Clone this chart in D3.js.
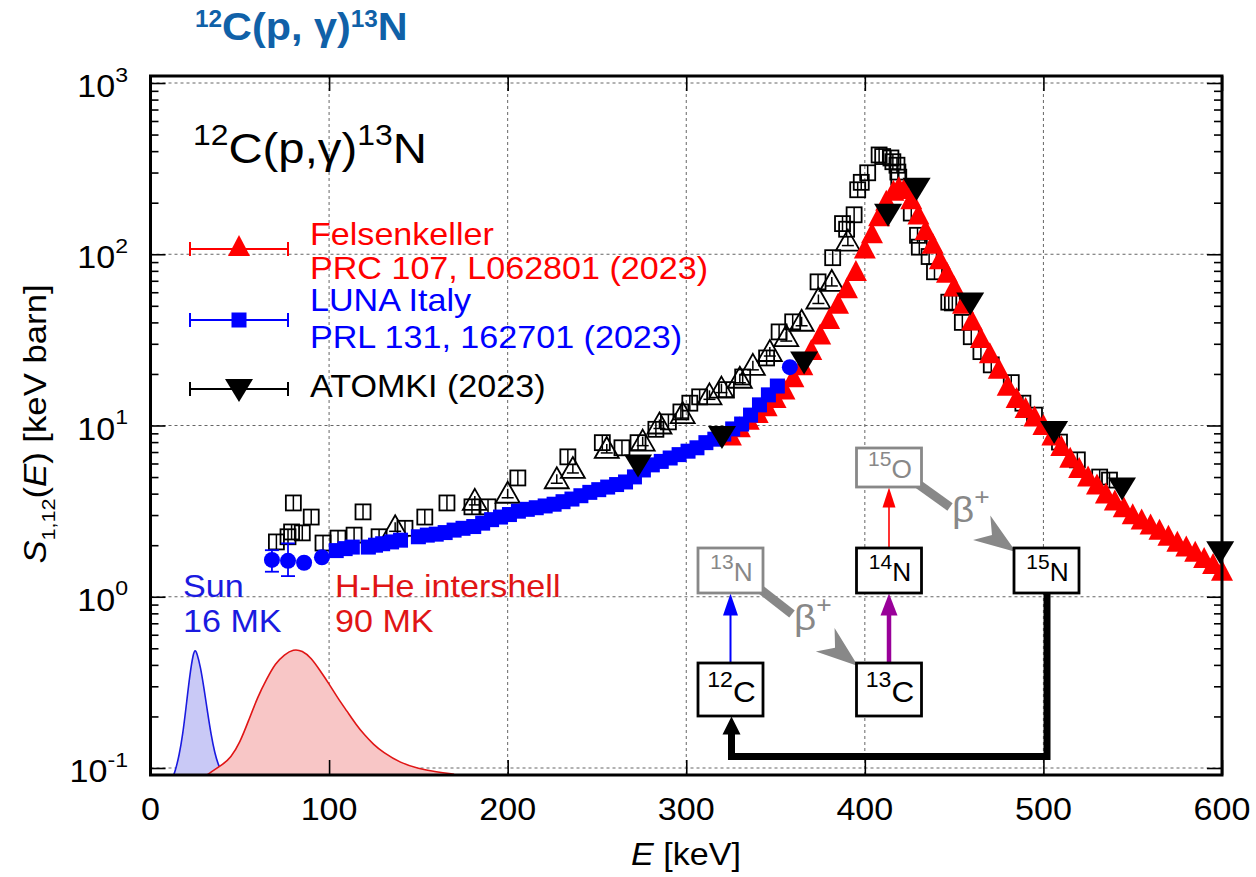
<!DOCTYPE html>
<html><head><meta charset="utf-8">
<script src="https://cdn.jsdelivr.net/npm/d3@7"></script>
<style>body{margin:0;background:#fff}svg{display:block;font-family:"Liberation Sans",Arial,Helvetica,sans-serif}</style>
</head><body><svg id="c" width="1256" height="877"></svg>
<script>
// ---------- data ----------
const xTicks=[0,100,200,300,400,500,600];
const yTicks=[0.1,1,10,100,1000];
const yTickExp=["-1","0","1","2","3"];

const felsE=[325,330,335,340,345,350,355,360,365,370,375,380,385,390,395,400,404,408,412,416,419,422,426,430,434,438,442,446,450,455,460,465,470,475,480,485,490,495,500,505,510,515,520,525,530,535,540,545,550,555,560,565,570,575,580,585,590,595,600];
const felsS=[8.5,9.5,10.5,11.5,12.6,14.1,15.8,18.6,21.9,26.9,33.1,40.7,50.1,61.7,77.6,105,129,162,200,229,240,234,204,166,135,112,91,76,63,50,40,31.6,25.7,20.9,16.6,14.1,12.3,11.0,9.8,8.5,7.4,6.3,5.5,4.9,4.4,3.9,3.55,3.24,2.95,2.75,2.57,2.40,2.21,2.04,1.91,1.78,1.64,1.51,1.38];

const lunaE=[104,109,113,122,126,130,135,140,150,155,160,165,170,175,181,186,191,196,201,206,211,216,221,226,231,236,241,246,251,256,261,266,271,276,281,286,291,296,301,306,311,316,321,326,331,336,341,346,351];
const lunaS=[1.86,1.91,1.95,1.95,2.0,2.04,2.09,2.14,2.24,2.29,2.32,2.37,2.45,2.51,2.57,2.69,2.82,2.92,3.02,3.16,3.24,3.31,3.39,3.47,3.59,3.72,3.89,4.07,4.22,4.37,4.52,4.68,5.01,5.50,5.89,6.17,6.46,6.76,7.08,7.41,7.94,8.32,8.91,9.55,10.2,11.5,13.2,15.1,17.0];
const lunaCircE=[68,77,86,96,358];
const lunaCircS=[1.64,1.62,1.58,1.70,21.9];
const lunaErrE=[68,77];
const lunaErrLo=[1.40,1.32];
const lunaErrHi=[1.87,2.05];

const atomkiE=[273,320,366,413,429,459,506,544,599];
const atomkiS=[6.0,8.8,24,175,248,53,9.4,4.4,1.87];

const oldSqE=[70.5,77,79,80,85,90,96.6,105,114,119,128,142.5,153.6,166,180,189,205.7,233.7,253,264,273,283,290,297,302,307.5,322.5,331.6,345,352,359.6,373.8,382,387.5,389.8,394,396,398,401.6,408,410,414.6,415.7,418,418.5,419,426,429.5,430.5,436,439,447,449,454.6,459.6,465,470.8,482,488.5,495,509,519,531.5,537];
const oldSqS=[2.09,2.24,2.39,3.53,2.36,2.92,2.06,2.20,2.29,3.13,2.24,2.51,2.92,3.53,3.35,3.35,4.94,6.56,7.94,7.41,7.94,9.5,10.5,12.0,13.5,14.7,16.2,19.2,24.8,35.2,40.3,69,95.5,151,140,170,238,263,299,380,372,365,347,331,302,282,174,129,110,97,79,52.5,52,40,33,27,22.6,17.8,13.5,11.5,8.0,6.3,5.0,4.8];

const oldTriE=[137,181.6,200,227.5,236.5,255.5,275.6,285,298,313,319.7,330,337.3,346.8,356,364.6,374,381.5,390.5];
const oldTriS=[2.51,3.58,3.94,4.79,5.5,7.2,7.94,10.0,11.5,14.8,16.2,18.5,22.0,26.5,32.4,39.8,53.7,68,117];

const sunE=[10,12,14,16,18,20,22,24,25,26,28,30,32,34,36,38,40,42];
const sunV=[0.08,0.085,0.097,0.118,0.155,0.23,0.35,0.47,0.49,0.47,0.39,0.29,0.21,0.155,0.122,0.104,0.094,0.088];
const shellE=[28,33,40,45,50,55,60,65,70,75,80,85,90,95,100,105,110,115,120,125,130,140,150,160,170];
const shellV=[0.085,0.0935,0.104,0.115,0.14,0.19,0.26,0.33,0.41,0.46,0.495,0.485,0.44,0.37,0.31,0.255,0.215,0.18,0.155,0.137,0.124,0.107,0.099,0.095,0.092];

const legendNames=[["Felsenkeller","PRC 107, L062801 (2023)"],["LUNA Italy","PRL 131, 162701 (2023)"],["ATOMKI (2023)"]];
const legendColors=["#ff0000","#0000ff","#000000"];

// ---------- setup ----------
const svg=d3.select('#c');
const L=150.5,R=1222,T=76,B=775;
const x=d3.scaleLinear().domain([0,600]).range([L,R]);
const y=d3.scaleLog().domain([0.1,1000]).range([768,83]);
const SX=1.1;

function rich(parent,o){
  const size=o.size, sx=o.sx||SX;
  const g=parent.append('g').attr('transform',`translate(${o.x},${o.y}) rotate(${o.rot||0}) scale(${sx},1)`);
  const t=g.append('text').attr('x',0).attr('y',0).attr('font-size',size)
    .attr('text-anchor',o.anchor||'start').attr('fill',o.fill||'#000');
  if(o.weight)t.attr('font-weight',o.weight);
  let off=0;
  for(const [s,k] of o.segs){
    let target=0,fs=null;
    if(k==='sup'){target=-(o.raise||0.45)*size;fs=o.supSize||size*0.62;}
    else if(k==='sub'){target=0.28*size;fs=size*0.62;}
    const ts=t.append('tspan').attr('dy',target-off).text(s);
    if(fs)ts.attr('font-size',fs);
    if(k==='i')ts.attr('font-style','italic');
    off=target;
  }
  return t;
}

svg.append('defs').append('clipPath').attr('id','clip').append('rect')
  .attr('x',L).attr('y',T).attr('width',R-L).attr('height',B-T);

// grid
const grid=svg.append('g').attr('stroke','#666').attr('stroke-width',1).attr('stroke-dasharray','3,3');
xTicks.slice(1,-1).forEach(v=>grid.append('line').attr('x1',x(v)).attr('x2',x(v)).attr('y1',T).attr('y2',B));
yTicks.forEach(v=>grid.append('line').attr('x1',L).attr('x2',R).attr('y1',y(v)).attr('y2',y(v)));

// gamow peaks
const plotG=svg.append('g').attr('clip-path','url(#clip)');
function gamow(E,V,fill,stroke){
  const pts=E.map((e,i)=>[e,V[i]]);
  plotG.append('path').datum(pts)
    .attr('d',d3.area().x(d=>x(d[0])).y0(B+5).y1(d=>y(d[1])).curve(d3.curveBasis))
    .attr('fill',fill);
  plotG.append('path').datum(pts)
    .attr('d',d3.line().x(d=>x(d[0])).y(d=>y(d[1])).curve(d3.curveBasis))
    .attr('fill','none').attr('stroke',stroke).attr('stroke-width',1.6);
}
gamow(sunE,sunV,'#c9c9f6','#1a1ae0');
gamow(shellE,shellV,'#f8c6c6','#e01515');

rich(svg,{x:183,y:597,size:31,fill:'#1a1ae0',segs:[['Sun']]});
rich(svg,{x:183,y:632,size:31,fill:'#1a1ae0',segs:[['16 MK']]});
rich(svg,{x:335,y:597,size:31,fill:'#e01515',segs:[['H-He intershell']]});
rich(svg,{x:335,y:632,size:31,fill:'#e01515',segs:[['90 MK']]});

// markers
const triUp='M0,-13L11,8L-11,8Z';
const triDown='M-14,-9L14,-9L0,14Z';
const dataG=svg.append('g');

oldSqE.forEach((e,i)=>{
  const g=dataG.append('g').attr('transform',`translate(${x(e)},${y(oldSqS[i])})`);
  g.append('rect').attr('x',-7.5).attr('y',-7.5).attr('width',15).attr('height',15).attr('fill','none').attr('stroke','#000').attr('stroke-width',1.8);
  g.append('line').attr('x1',0).attr('x2',0).attr('y1',-7.5).attr('y2',7.5).attr('stroke','#000').attr('stroke-width',1.5);
});
oldTriE.forEach((e,i)=>{
  const g=dataG.append('g').attr('transform',`translate(${x(e)},${y(oldTriS[i])})`);
  g.append('path').attr('d','M0,-13L12,8L-12,8Z').attr('fill','none').attr('stroke','#000').attr('stroke-width',1.8);
  g.append('line').attr('x1',0).attr('x2',0).attr('y1',-6).attr('y2',3).attr('stroke','#000').attr('stroke-width',1.5);
  g.append('line').attr('x1',-6).attr('x2',6).attr('y1',3).attr('y2',3).attr('stroke','#000').attr('stroke-width',1.5);
});

felsE.forEach((e,i)=>dataG.append('path').attr('d',triUp).attr('fill','#ff0000')
  .attr('transform',`translate(${x(e)},${y(felsS[i])})`));

lunaErrE.forEach((e,i)=>{
  const g=dataG.append('g').attr('stroke','#0000ff').attr('stroke-width',1.8);
  g.append('line').attr('x1',x(e)).attr('x2',x(e)).attr('y1',y(lunaErrLo[i])).attr('y2',y(lunaErrHi[i]));
  [lunaErrLo[i],lunaErrHi[i]].forEach(v=>g.append('line').attr('x1',x(e)-7).attr('x2',x(e)+7).attr('y1',y(v)).attr('y2',y(v)));
});
lunaE.forEach((e,i)=>dataG.append('rect').attr('x',x(e)-7.5).attr('y',y(lunaS[i])-7.5)
  .attr('width',15).attr('height',15).attr('fill','#0000ff'));
lunaCircE.forEach((e,i)=>dataG.append('circle').attr('cx',x(e)).attr('cy',y(lunaCircS[i])).attr('r',8).attr('fill','#0000ff'));

atomkiE.forEach((e,i)=>dataG.append('path').attr('d',triDown).attr('fill','#000')
  .attr('transform',`translate(${x(e)},${y(atomkiS[i])})`));

// ---------- CNO cycle inset ----------
const cno=svg.append('g');
const cnoBoxes=[
 {m:'12',el:'C',cx:730.5,cy:689.5,w:65,h:53,gray:false,fs:30,ss:22},
 {m:'13',el:'N',cx:730.5,cy:570.5,w:65,h:45,gray:true,fs:25,ss:20},
 {m:'13',el:'C',cx:889,cy:689.5,w:65,h:53,gray:false,fs:30,ss:22},
 {m:'14',el:'N',cx:889,cy:570.5,w:65,h:45,gray:false,fs:25,ss:20},
 {m:'15',el:'O',cx:889,cy:467.5,w:65,h:39,gray:true,fs:25,ss:20},
 {m:'15',el:'N',cx:1046.5,cy:570.5,w:65,h:45,gray:false,fs:25,ss:20}
];
function head(g,tx,ty,dx,dy,len,wid,color,notch){
  const n=Math.hypot(dx,dy),ux=dx/n,uy=dy/n,px=-uy,py=ux;
  const bx=tx-ux*len,by=ty-uy*len;
  const pts=[[tx,ty],[bx+px*wid/2,by+py*wid/2],[tx-ux*len*(1-notch),ty-uy*len*(1-notch)],[bx-px*wid/2,by-py*wid/2]];
  g.append('path').attr('d','M'+pts.map(p=>p.join(',')).join('L')+'Z').attr('fill',color);
}
function arrow(g,x1,y1,x2,y2,color,w,len,wid){
  const n=Math.hypot(x2-x1,y2-y1),ux=(x2-x1)/n,uy=(y2-y1)/n;
  g.append('line').attr('x1',x1).attr('y1',y1).attr('x2',x2-ux*len*0.8).attr('y2',y2-uy*len*0.8)
    .attr('stroke',color).attr('stroke-width',w);
  head(g,x2,y2,ux,uy,len,wid,color,0);
}
cno.append('line').attr('x1',760).attr('y1',589).attr('x2',792).attr('y2',614).attr('stroke','#888').attr('stroke-width',9);
head(cno,858,666,95,76,42,30,'#888',0.3);
cno.append('line').attr('x1',918).attr('y1',484).attr('x2',950).attr('y2',507).attr('stroke','#888').attr('stroke-width',9);
head(cno,1016,552,95,67,42,30,'#888',0.3);
rich(cno,{x:794,y:630,size:35,fill:'#888',segs:[['β'],['+','sup']],raise:0.5,supSize:24});
rich(cno,{x:952,y:522,size:35,fill:'#888',segs:[['β'],['+','sup']],raise:0.5,supSize:24});
arrow(cno,730.5,663,730.5,593.5,'#0000ff',2,22,15);
arrow(cno,889,663,889,593.5,'#990099',4.5,22,17);
arrow(cno,889,548,889,487.5,'#ff0000',1.6,20,13);
cno.append('path').attr('d','M1047,593L1047,756.5L731.5,756.5L731.5,732').attr('fill','none')
  .attr('stroke','#000').attr('stroke-width',7).attr('stroke-linejoin','miter');
head(cno,731.5,716.5,0,-1,18,18,'#000',0);
cnoBoxes.forEach(b=>{
  const c=b.gray?'#888':'#000';
  cno.append('rect').attr('x',b.cx-b.w/2).attr('y',b.cy-b.h/2).attr('width',b.w).attr('height',b.h)
    .attr('fill','#fff').attr('stroke',c).attr('stroke-width',2.8);
  rich(cno,{x:b.cx+1,y:b.cy+b.fs*0.42,size:b.fs,anchor:'middle',fill:c,segs:[[b.m,'sup'],[b.el]],raise:0.5,supSize:b.ss,sx:1.05});
});

// ---------- legend ----------
const leg=svg.append('g');
const legLineY=[249,320,389];
legendColors.forEach((c,i)=>{
  const g=leg.append('g').attr('stroke',c).attr('stroke-width',2);
  g.append('line').attr('x1',190).attr('x2',288).attr('y1',legLineY[i]).attr('y2',legLineY[i]);
  [190,288].forEach(xx=>g.append('line').attr('x1',xx).attr('x2',xx).attr('y1',legLineY[i]-7).attr('y2',legLineY[i]+7));
});
leg.append('path').attr('d',triUp).attr('fill','#ff0000').attr('transform',`translate(239,${legLineY[0]-1})`);
leg.append('rect').attr('x',231.5).attr('y',legLineY[1]-7.5).attr('width',15).attr('height',15).attr('fill','#0000ff');
leg.append('path').attr('d',triDown).attr('fill','#000').attr('transform',`translate(239,${legLineY[2]-1})`);
const legTextY=[[245,279],[311,348],[397]];
legendNames.forEach((lines,i)=>lines.forEach((t,j)=>
  rich(leg,{x:310,y:legTextY[i][j],size:31,fill:legendColors[i],sx:1.1,segs:[[t]]})));

// inner title
rich(svg,{x:193,y:163,size:43,segs:[['12','sup'],['C(p,γ)'],['13','sup'],['N']],raise:0.42,supSize:29});

// ---------- axes ----------
function tickAxis(axis,tr){
  const g=svg.append('g').attr('transform',tr).call(axis);
  g.select('.domain').remove();
  g.selectAll('.tick line').attr('stroke','#000').attr('stroke-width',1.6);
  g.selectAll('.tick text').remove();
  return g;
}
const minorY=[];
[0.1,1,10,100].forEach(d=>{for(let k=2;k<=9;k++)minorY.push(d*k);});
tickAxis(d3.axisLeft(y).tickValues(yTicks).tickSize(-15),`translate(${L},0)`);
tickAxis(d3.axisLeft(y).tickValues(minorY).tickSize(-8),`translate(${L},0)`);
tickAxis(d3.axisRight(y).tickValues(yTicks).tickSize(-15),`translate(${R},0)`);
tickAxis(d3.axisRight(y).tickValues(minorY).tickSize(-8),`translate(${R},0)`);
tickAxis(d3.axisBottom(x).tickValues(xTicks).tickSize(-15),`translate(0,${B})`);
tickAxis(d3.axisTop(x).tickValues(xTicks).tickSize(-15),`translate(0,${T})`);

svg.append('rect').attr('x',L).attr('y',T).attr('width',R-L).attr('height',B-T)
  .attr('fill','none').attr('stroke','#000').attr('stroke-width',3);

yTicks.forEach((v,i)=>rich(svg,{x:128,y:y(v)+14,size:31,anchor:'end',segs:[['10'],[yTickExp[i],'sup']],raise:0.5,supSize:21}));
xTicks.forEach(v=>rich(svg,{x:x(v),y:820,size:31,anchor:'middle',segs:[[String(v)]]}));

rich(svg,{x:686,y:865,size:31,anchor:'middle',segs:[['E','i'],[' [keV]']]});
rich(svg,{x:46,y:424,size:31,anchor:'middle',rot:-90,sx:1.12,segs:[['S','i'],['1,12','sub'],['('],['E','i'],[') [keV barn]']]});

// page title
rich(svg,{x:195,y:40,size:39,weight:'bold',fill:'#1061a8',segs:[['12','sup'],['C(p, γ)'],['13','sup'],['N']],raise:0.33,supSize:23,sx:1.06});
</script></body></html>
